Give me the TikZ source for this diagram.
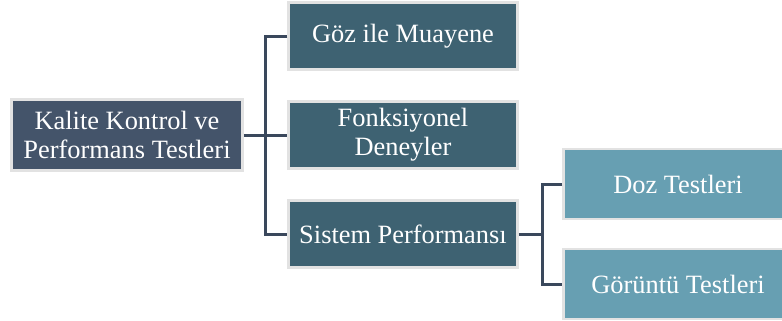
\documentclass[tikz,border=0pt]{standalone}
\usepackage{fontspec}
\setmainfont{Liberation Serif}
\definecolor{rootc}{RGB}{68,84,106}
\definecolor{midc}{RGB}{62,98,114}
\definecolor{leafc}{RGB}{103,159,178}
\definecolor{edgec}{RGB}{226,226,226}
\definecolor{linec}{RGB}{58,72,92}
\begin{document}
\begin{tikzpicture}[x=1bp,y=-1bp,
  box/.style={draw=edgec,line width=2.5bp,text=white,align=center,inner sep=0pt,
    font=\fontsize{26.4bp}{29bp}\selectfont},
  rootbox/.style={box,fill=rootc,minimum width=231bp,minimum height=71bp},
  midbox/.style={box,fill=midc,minimum width=229bp,minimum height=67bp},
  leafbox/.style={box,fill=leafc,minimum width=229bp,minimum height=70bp},
  conn/.style={draw=linec,line width=3bp}]
\clip (0,0) rectangle (782,320);
\useasboundingbox (0,0) rectangle (782,320);
\node[rootbox] (root) at (127,135) {Kalite Kontrol ve\\Performans Testleri};
\node[midbox] (goz) at (403,36) {Göz ile Muayene};
\node[midbox] (fonk) at (403,135) {Fonksiyonel\\Deneyler};
\node[midbox] (sis) at (403,234) {Sistem Performansı};
\node[leafbox] (doz) at (678,184) {Doz Testleri};
\node[leafbox] (gor) at (678,284) {Görüntü Testleri};
\coordinate (j1) at (265,135);
\coordinate (j2) at (542,234);
\draw[conn] (root.east) -- (j1);
\draw[conn] (goz.west) -| (j1) |- (sis.west);
\draw[conn] (j1) -- (fonk.west);
\draw[conn] (sis.east) -- (j2);
\draw[conn] (doz.west) -| (j2) |- (gor.west);
\end{tikzpicture}
\end{document}
